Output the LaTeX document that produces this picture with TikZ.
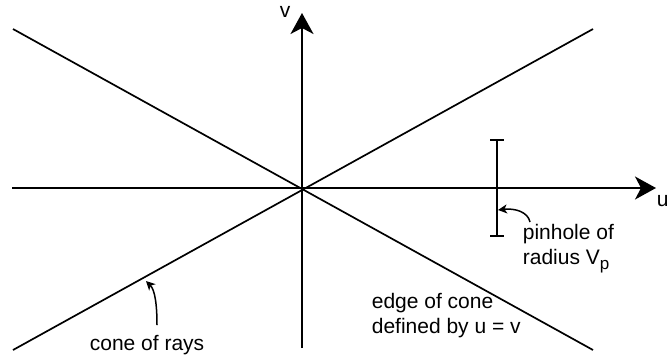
\documentclass[tikz,border=0pt]{standalone}
\usepackage{fontspec}
\setmainfont{Liberation Sans}
\usetikzlibrary{arrows.meta}
\begin{document}
\begin{tikzpicture}[x=1pt,y=-1pt,line width=1.7pt,
  lbl/.style={anchor=base west,inner sep=0pt,align=left,font=\fontsize{21}{24.5}\selectfont},
  bigtip/.style={-{Stealth[length=21pt,width=23pt,inset=6pt]}},
  smalltip/.style={line width=1.5pt,-{Stealth[length=9pt,width=9pt,inset=2.5pt]}}]
\useasboundingbox (0,0) rectangle (668,360);
% cone edges
\coordinate (ul) at (13,29);
\coordinate (lr) at (593,350);
\coordinate (ll) at (13,350);
\coordinate (ur) at (593,29);
\draw (ul) -- (lr);
\draw (ll) -- (ur);
% axes
\coordinate (ustart) at (12,188);
\coordinate (uend) at (656,188);
\coordinate (vstart) at (302,348);
\coordinate (vend) at (302,13);
\draw[bigtip] (ustart) -- (uend);
\draw[bigtip] (vstart) -- (vend);
\node[lbl] (ulab) at (656,206) {u};
\node[lbl] (vlab) at (279,17) {v};
% pinhole
\coordinate (ptop) at (497,140);
\coordinate (pbot) at (497,236);
\draw (ptop) -- (pbot);
\draw (490,140) -- (504,140);
\draw (490,236) -- (504,236);
\node[lbl] (pin) at (522,264) {pinhole of\\radius V\raisebox{-5pt}{\fontsize{17}{17}\selectfont p}};
\coordinate (pinfrom) at (530,222);
\coordinate (pinto) at (498,210);
\draw[smalltip] (pinfrom) .. controls (528,212) and (515,208) .. (pinto);
% cone of rays
\node[lbl] (cone) at (89,350) {cone of rays};
\coordinate (conefrom) at (157,325);
\coordinate (coneto) at (146,281);
\draw[smalltip] (conefrom) .. controls (157,305) and (155,290) .. (coneto);
% edge label
\node[lbl] (edge) at (371,333) {edge of cone\\defined by u = v};
\end{tikzpicture}
\end{document}
